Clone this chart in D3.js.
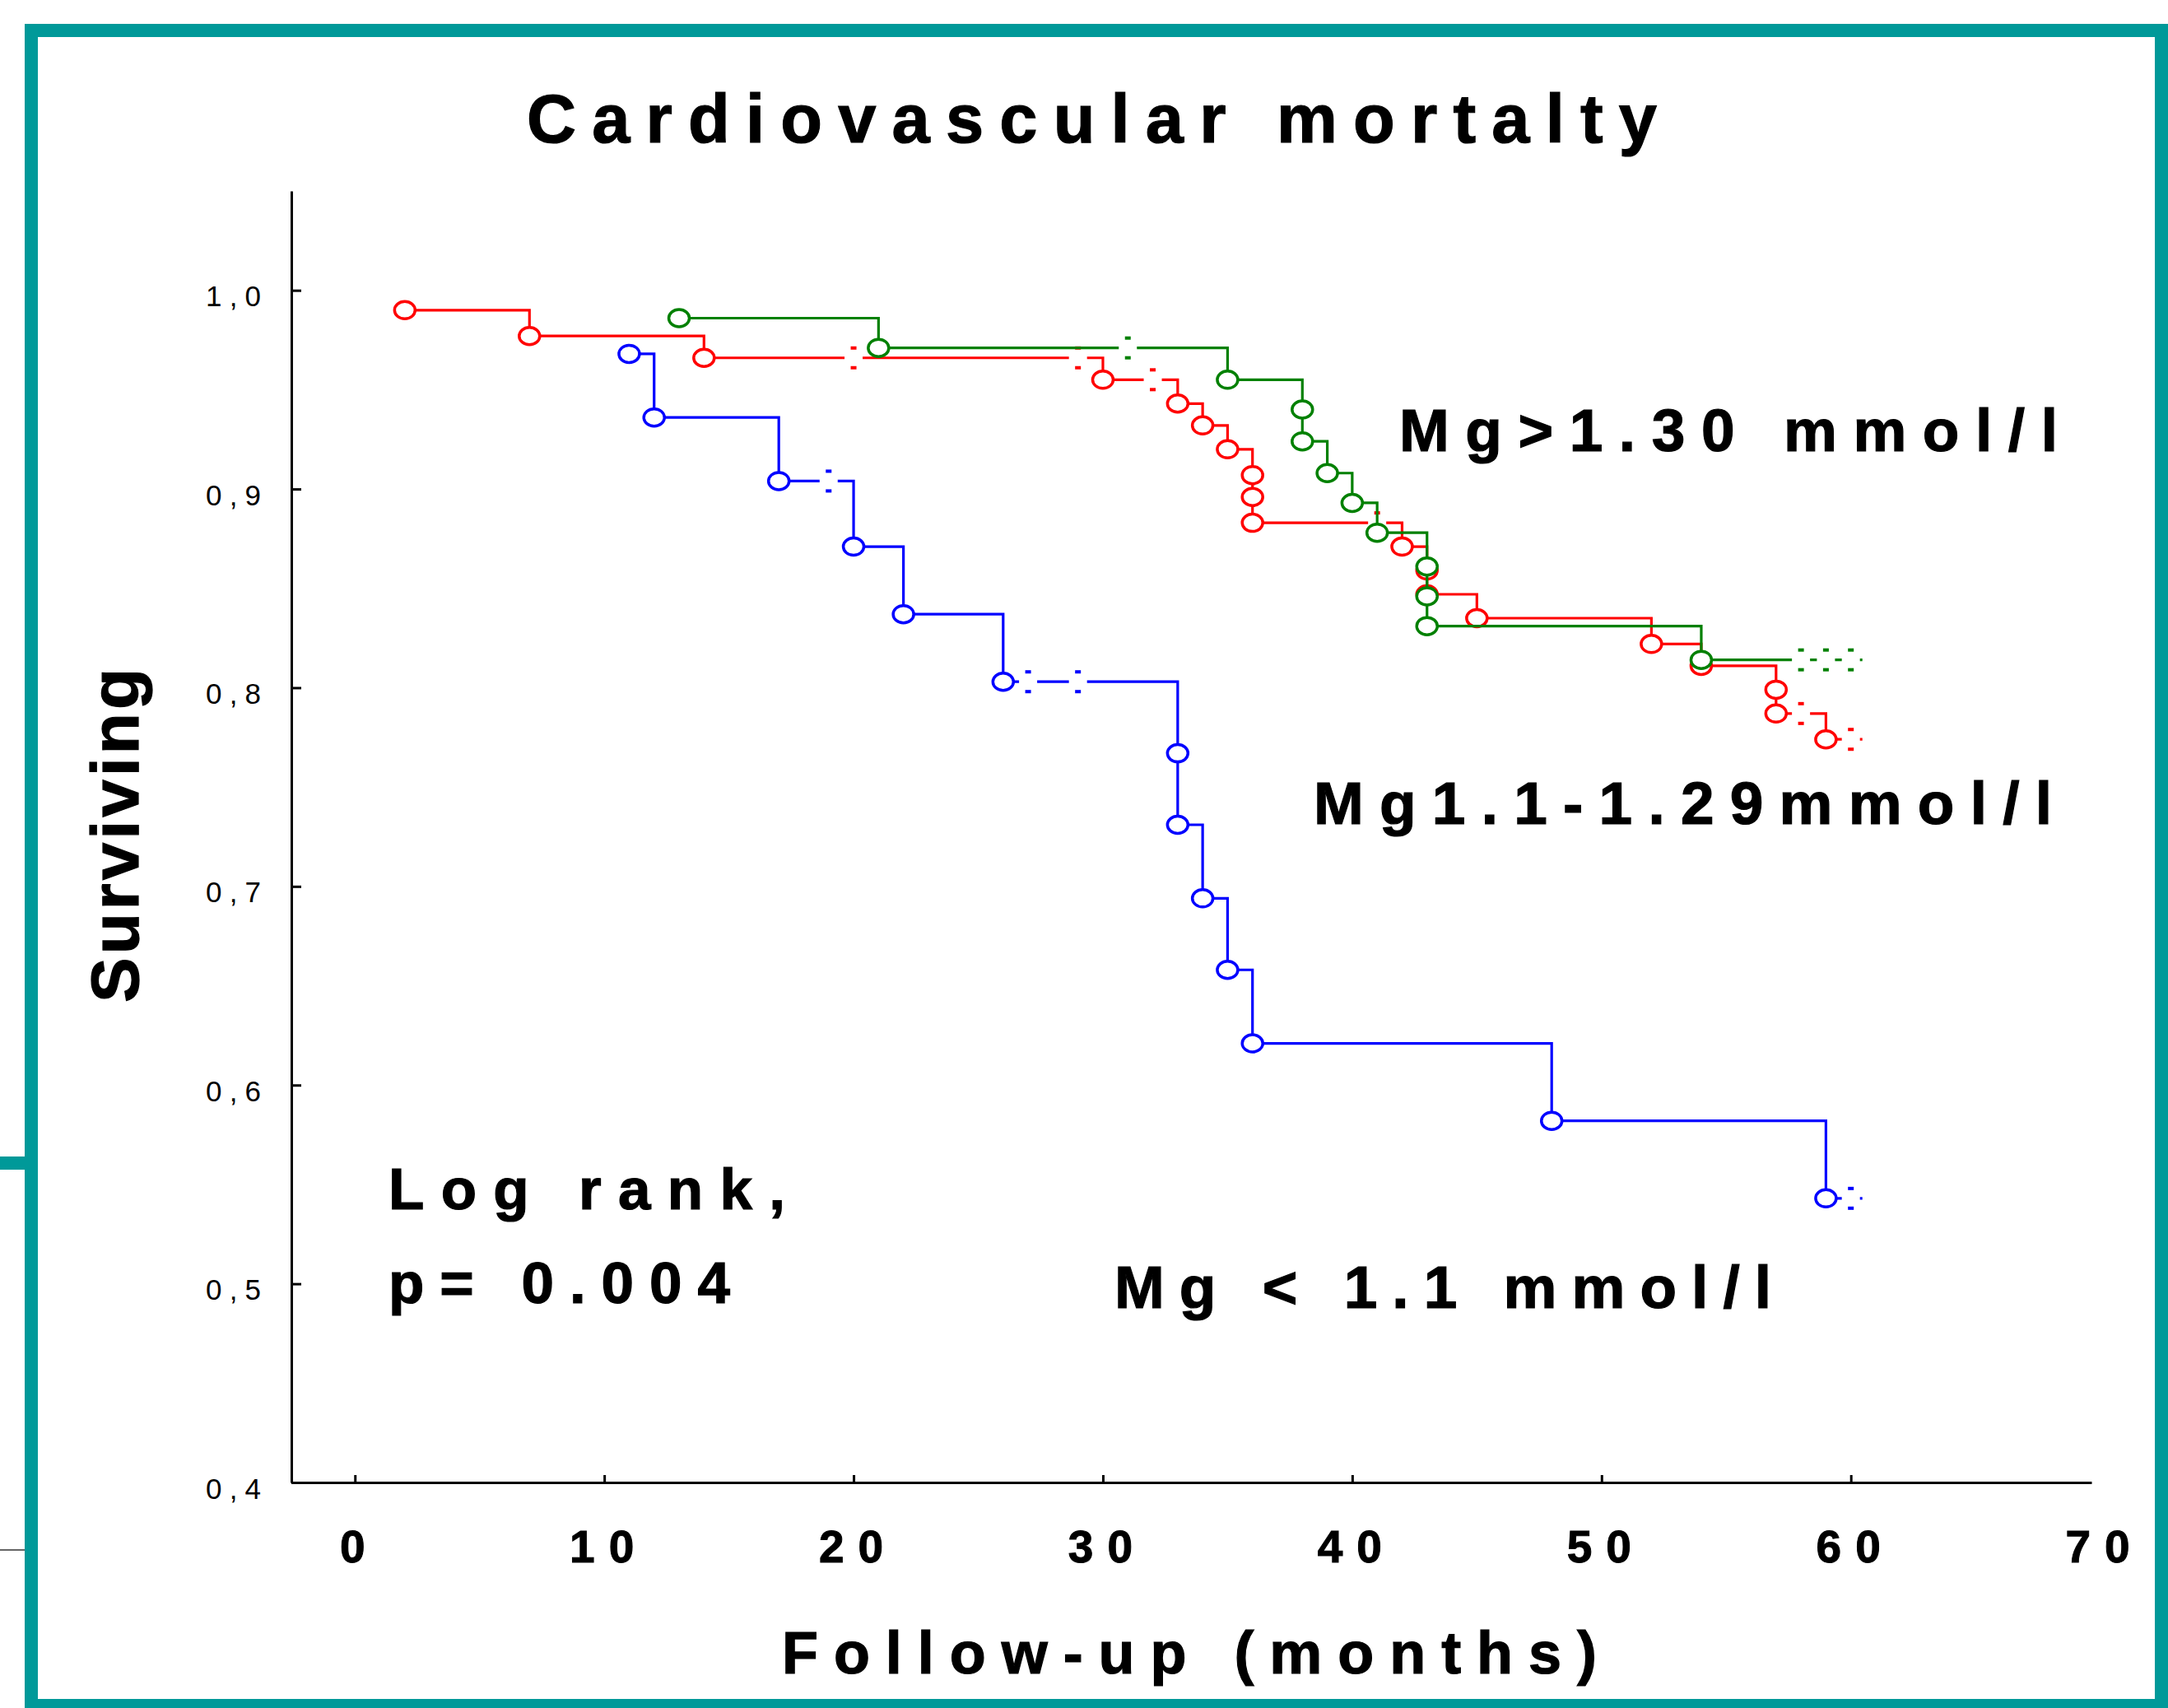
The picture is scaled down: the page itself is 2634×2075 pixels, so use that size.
<!DOCTYPE html>
<html>
<head>
<meta charset="utf-8">
<script src="https://cdn.jsdelivr.net/npm/d3@7"></script>
<style>
  body { margin: 0; background: #fff; }
  text { font-family: "Liberation Sans", Arial, sans-serif; }
</style>
</head>
<body>
<div id="chart"></div>
<script>
var w = 2634, h = 2075;

var xTicks = [0, 10, 20, 30, 40, 50, 60, 70];
var yTicks = [0.4, 0.5, 0.6, 0.7, 0.8, 0.9, 1.0];
var yTickLabels = ["0,4", "0,5", "0,6", "0,7", "0,8", "0,9", "1,0"];

// Mg < 1.1 mmol/l
var lowTimes = [11, 12, 17, 20, 22, 26, 33, 33, 34, 35, 36, 48, 59];
var lowSurv = [0.968, 0.936, 0.904, 0.871, 0.837, 0.803, 0.767, 0.731, 0.694, 0.658, 0.621, 0.582, 0.543];
var lowCensored = [19, 27, 29, 60];

// Mg 1.1-1.29 mmol/l
var midTimes = [2, 7, 14, 30, 33, 34, 35, 36, 36, 36, 42, 43, 43, 45, 52, 54, 57, 57, 59];
var midSurv = [0.990, 0.977, 0.966, 0.955, 0.943, 0.932, 0.920, 0.907, 0.896, 0.883, 0.871, 0.859, 0.847, 0.835, 0.822, 0.811, 0.799, 0.787, 0.774];
var midCensored = [20, 29, 32, 41, 58, 60];

// Mg > 1.30 mmol/l
var highTimes = [13, 21, 35, 38, 38, 39, 40, 41, 43, 43, 43, 54];
var highSurv = [0.986, 0.971, 0.955, 0.940, 0.924, 0.908, 0.893, 0.878, 0.861, 0.846, 0.831, 0.814];
var highCensored = [31, 58, 59, 60];

var groups = [
  {id: "mid", times: midTimes, surv: midSurv, cens: midCensored, color: "#ff0000"},
  {id: "high", times: highTimes, surv: highSurv, cens: highCensored, color: "#008000"},
  {id: "low", times: lowTimes, surv: lowSurv, cens: lowCensored, color: "#0000ff"}
];

var teal = "#009999";

var svg = d3.select("#chart")
  .append("svg")
    .attr("width", w)
    .attr("height", h);

svg.append("rect").attr("width", w).attr("height", h).attr("fill", "#fff");

// frame
svg.append("rect").attr("x", 30).attr("y", 29).attr("width", w - 30).attr("height", 16).attr("fill", teal);
svg.append("rect").attr("x", 30).attr("y", 29).attr("width", 16).attr("height", h - 29).attr("fill", teal);
svg.append("rect").attr("x", 2618).attr("y", 29).attr("width", 16).attr("height", h - 29).attr("fill", teal);
svg.append("rect").attr("x", 30).attr("y", 2064).attr("width", w - 30).attr("height", 11).attr("fill", teal);
svg.append("rect").attr("x", 0).attr("y", 1405).attr("width", 31).attr("height", 16).attr("fill", teal);
svg.append("line").attr("x1", 0).attr("x2", 30).attr("y1", 1883).attr("y2", 1883)
  .attr("stroke", "#666").attr("stroke-width", 2);

var x = d3.scaleLinear().domain([-2.55, 69.65]).range([354, 2541]);
var y = d3.scaleLinear().domain([0.4, 1.05]).range([1801, 232]);

// y axis
var yAxis = svg.append("g")
  .attr("transform", "translate(" + x.range()[0] + ",0)")
  .call(d3.axisLeft(y).tickValues(yTicks).tickSize(-12).tickSizeOuter(0).tickPadding(37)
    .tickFormat(function(d, i) { return yTickLabels[i]; }));
yAxis.selectAll("path, line").attr("stroke", "#000").attr("stroke-width", 3);
yAxis.selectAll("text")
  .attr("dy", 19)
  .attr("fill", "#000")
  .style("font-size", "35px")
  .attr("textLength", 67)
  .attr("lengthAdjust", "spacing");

// x axis
var xAxis = svg.append("g")
  .attr("transform", "translate(0," + y.range()[0] + ")")
  .call(d3.axisBottom(x).tickValues(xTicks).tickSize(-9).tickSizeOuter(0));
xAxis.selectAll("path, line").attr("stroke", "#000").attr("stroke-width", 3);
xAxis.selectAll(".tick").filter(function(d) { return d === 70; }).select("line").remove();
xAxis.selectAll("text")
  .attr("y", 97)
  .attr("dy", 0)
  .attr("dx", 5)
  .attr("fill", "#000")
  .attr("stroke", "#000")
  .attr("stroke-width", 1)
  .style("font-size", "55px")
  .style("font-weight", "bold")
  .style("letter-spacing", "17px");

function survAt(g, t) {
  var s = g.surv[0];
  for (var i = 0; i < g.times.length; i++) if (g.times[i] <= t) s = g.surv[i];
  return s;
}

var defs = svg.append("defs");

groups.forEach(function(g) {
  // gaps in the line where censored cases sit
  var mask = defs.append("mask").attr("id", "m-" + g.id).attr("maskUnits", "userSpaceOnUse")
    .attr("x", 0).attr("y", 0).attr("width", w).attr("height", h);
  mask.append("rect").attr("width", w).attr("height", h).attr("fill", "#fff");
  mask.selectAll("rect.gap")
    .data(g.cens)
  .enter().append("rect")
    .attr("class", "gap")
    .attr("x", function(d) { return x(d) - 11; })
    .attr("y", function(d) { return y(survAt(g, d)) - 6; })
    .attr("width", 22)
    .attr("height", 12)
    .attr("fill", "#000");

  var d = "M" + x(g.times[0]) + "," + y(g.surv[0]);
  for (var i = 1; i < g.times.length; i++) {
    d += "H" + x(g.times[i]) + "V" + y(g.surv[i]);
  }
  d += "H" + (x(d3.max(g.cens)) + 14);

  var layer = svg.append("g").attr("class", "curve-" + g.id);

  layer.append("path")
    .attr("d", d)
    .attr("fill", "none")
    .attr("stroke", g.color)
    .attr("stroke-width", 3.2)
    .attr("mask", "url(#m-" + g.id + ")");

  // censor marks: small dash above and below the line
  layer.selectAll("rect.cens")
    .data(g.cens.concat(g.cens).map(function(c, i) { return {t: c, up: i < g.cens.length}; }))
  .enter().append("rect")
    .attr("class", "cens")
    .attr("x", function(c) { return x(c.t) - 3.5; })
    .attr("y", function(c) { return y(survAt(g, c.t)) + (c.up ? -12 : 12) - 2; })
    .attr("width", 7)
    .attr("height", 4)
    .attr("fill", g.color);

  layer.selectAll("ellipse")
    .data(g.times)
  .enter().append("ellipse")
    .attr("cx", function(t) { return x(t); })
    .attr("cy", function(t, i) { return y(g.surv[i]); })
    .attr("rx", 12.5)
    .attr("ry", 10.5)
    .attr("fill", "#fff")
    .attr("stroke", g.color)
    .attr("stroke-width", 3.5);
});

function label(txt, x0, yb, size, len) {
  return svg.append("text")
    .attr("x", x0)
    .attr("y", yb)
    .attr("textLength", len)
    .attr("lengthAdjust", "spacing")
    .style("font-size", size + "px")
    .style("font-weight", "bold")
    .attr("fill", "#000")
    .attr("stroke", "#000")
    .attr("stroke-width", 1.2)
    .text(txt);
}

label("Cardiovascular mortalty", 640, 173, 83, 1373);
label("Mg>1.30 mmol/l", 1700, 548, 73, 800);
label("Mg1.1-1.29mmol/l", 1596, 1001, 73, 897);
label("Mg < 1.1 mmol/l", 1354, 1589, 73, 798);
label("Log rank,", 472, 1469, 71, 482);
label("p= 0.004", 472, 1583, 71, 415);
label("Follow-up (months)", 950, 2033, 72, 990);

svg.append("text")
  .attr("transform", "translate(168,1015) rotate(-90)")
  .attr("text-anchor", "middle")
  .attr("textLength", 406)
  .attr("lengthAdjust", "spacing")
  .style("font-size", "82px")
  .style("font-weight", "bold")
  .attr("fill", "#000")
  .attr("stroke", "#000")
  .attr("stroke-width", 1.2)
  .text("Surviving");
</script>
</body>
</html>
